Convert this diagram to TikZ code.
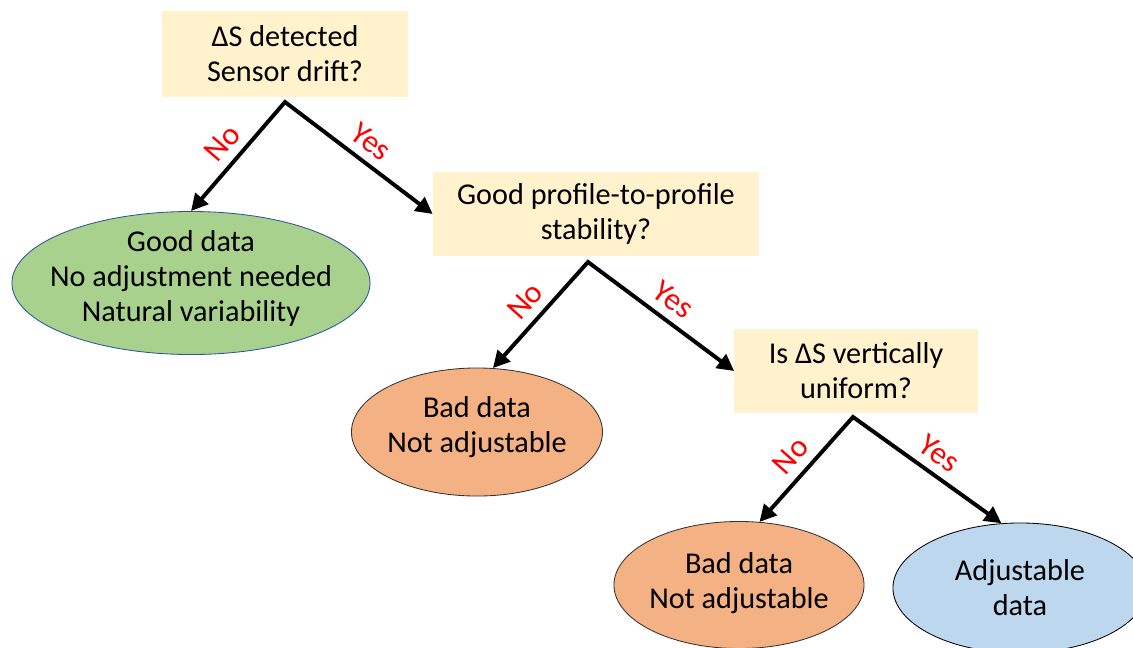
\documentclass[tikz,border=0pt]{standalone}
\usepackage{fontspec}
\setmainfont{Carlito}
\usetikzlibrary{shapes.geometric,arrows.meta}

\definecolor{qfill}{HTML}{FFF2CC}
\definecolor{goodfill}{HTML}{A9D18E}
\definecolor{goodline}{HTML}{2F5597}
\definecolor{badfill}{HTML}{F4B183}
\definecolor{adjfill}{HTML}{BDD7EE}

\tikzset{
	question/.style={fill=qfill, align=center, inner sep=0pt},
	outcome/.style={ellipse, draw, line width=0.6pt, inner sep=0pt},
	outtext/.style={align=center, inner sep=0pt},
	branch/.style={line width=2.8pt, line join=miter, {Triangle[length=0.42cm,width=0.42cm]}-{Triangle[length=0.42cm,width=0.42cm]}},
	answer/.style={text=red, sloped, above, inner sep=6pt, font=\fontsize{22.5}{26}\selectfont}
}

\begin{document}
\begin{tikzpicture}[x=0.025cm, y=-0.025cm, font=\fontsize{21.5}{25}\selectfont]
\useasboundingbox (0,0) rectangle (1133,647);
\clip (0,0) rectangle (1133,647);

% questions
\node[question, minimum width=6.15cm, minimum height=2.125cm] (q1) at (285,54) {∆S detected\\Sensor drift?};
\node[question, minimum width=8.15cm, minimum height=2.1cm] (q2) at (596,214) {Good profile-to-profile\\stability?};
\node[question, minimum width=6.075cm, minimum height=2.075cm] (q3) at (856,371) {Is ∆S vertically\\uniform?};

% outcomes
\node[outcome, draw=goodline, fill=goodfill, minimum width=8.95cm, minimum height=3.575cm,
	label={[outtext, yshift=0.12cm]center:Good data\\No adjustment needed\\Natural variability}] (good) at (191,283) {};
\node[outcome, draw=black!80, fill=badfill, minimum width=6.275cm, minimum height=3.2cm,
	label={[outtext, yshift=0.12cm]center:Bad data\\Not adjustable}] (bad1) at (477,432) {};
\node[outcome, draw=black!80, fill=badfill, minimum width=6.25cm, minimum height=3.175cm,
	label={[outtext, yshift=0.04cm]center:Bad data\\Not adjustable}] (bad2) at (739,585) {};
\node[outcome, draw=black, fill=adjfill, minimum width=6.35cm, minimum height=3.25cm,
	label={[outtext]center:Adjustable\\data}] (adj) at (1020,588) {};

% split points
\coordinate (s1) at (285,102);
\coordinate (s2) at (588,262);
\coordinate (s3) at (853,417);

% branches
\draw[branch] (good.north) -- node[answer]{No} (s1) -- node[answer]{Yes} (q2.west);
\draw[branch] (bad1.76) -- node[answer]{No} (s2) -- node[answer]{Yes} (q3.west);
\draw[branch] (bad2.72) -- node[answer]{No} (s3) -- node[answer]{Yes} (adj.106);

\end{tikzpicture}
\end{document}
